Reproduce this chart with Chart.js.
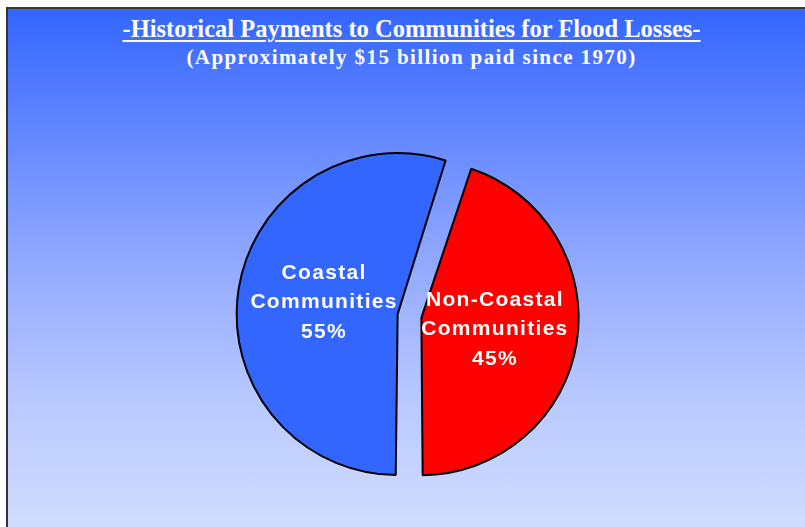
<!DOCTYPE html>
<html>
<head>
<meta charset="utf-8">
<script src="https://cdn.jsdelivr.net/npm/chart.js@4.4.0/dist/chart.umd.min.js"></script>
<style>
  html, body { margin: 0; padding: 0; background: #fff; }
  body { width: 805px; height: 527px; overflow: hidden; position: relative; }
  #panel {
    position: absolute; left: 6px; top: 7px; right: 0; bottom: 0;
    border-left: 2px solid #333; border-top: 2px solid #3a3a3a;
    background: linear-gradient(#3366ff 0%, #5a80ff 19%, #7f9cff 39%, #a0b4ff 58%, #bccbff 78%, #d0dcff 100%);
  }
  .title {
    position: absolute; left: 0; width: 805px; text-align: center; color: #fff;
    font-family: "Liberation Serif", "Times New Roman", serif; font-weight: bold;
  }
  #t1 { top: 17px; font-size: 24.5px; line-height: 24px; text-decoration: underline; text-decoration-thickness: 2px; text-underline-offset: 3px; padding-left: 18px; box-sizing: border-box; }
  #t2 { top: 47px; font-size: 21px; line-height: 21px; letter-spacing: 1.4px; padding-left: 18px; box-sizing: border-box; }
  #wrap { position: absolute; left: 0; top: 0; width: 805px; height: 527px; }
</style>
</head>
<body>
<div id="panel"></div>
<div class="title" id="t1">-Historical Payments to Communities for Flood Losses-</div>
<div class="title" id="t2">(Approximately $15 billion paid since 1970)</div>
<div id="wrap"><canvas id="chart"></canvas></div>
<script>
// Pie data (share of payments, percent)
const labels = ['Non-Coastal Communities', 'Coastal Communities'];
const labelLines = [['Non-Coastal', 'Communities'], ['Coastal', 'Communities']];
const shares = [45, 55];
const colors = ['#ff0000', '#3366ff'];

// Draws the text inside each slice
const sliceLabels = {
  id: 'sliceLabels',
  afterDatasetsDraw(chart) {
    const ctx = chart.ctx;
    const meta = chart.getDatasetMeta(0);
    ctx.save();
    ctx.fillStyle = '#fff';
    ctx.font = 'bold 21px "Liberation Sans", Arial, sans-serif';
    ctx.letterSpacing = '1.3px';
    ctx.textAlign = 'center';
    ctx.textBaseline = 'middle';
    meta.data.forEach((arc, i) => {
      const { x, y, startAngle, endAngle, outerRadius } = arc.getProps(['x', 'y', 'startAngle', 'endAngle', 'outerRadius'], true);
      const mid = (startAngle + endAngle) / 2;
      const dist = outerRadius * 0.5 + (arc.options.offset || 0) / 4;
      const cx = x + Math.cos(mid) * dist;
      const cy = y + Math.sin(mid) * dist;
      const lines = labelLines[i].concat([shares[i] + '%']);
      lines.forEach((line, j) => {
        ctx.fillText(line, cx, cy + (j - 1) * 29.5);
      });
    });
    ctx.restore();
  }
};

new Chart(document.getElementById('chart'), {
  type: 'pie',
  data: {
    labels: labels,
    datasets: [{
      data: shares,
      backgroundColor: colors,
      borderColor: '#000',
      borderWidth: 2,
      offset: 48,
      hoverOffset: 48
    }]
  },
  options: {
    responsive: true,
    maintainAspectRatio: false,
    animation: false,
    rotation: 18,
    radius: 149,
    layout: { padding: { left: 14, right: 0, top: 105, bottom: 0 } },
    events: [],
    plugins: {
      legend: { display: false },
      tooltip: { enabled: false },
      title: { display: false }
    }
  },
  plugins: [sliceLabels]
});
</script>
</body>
</html>
